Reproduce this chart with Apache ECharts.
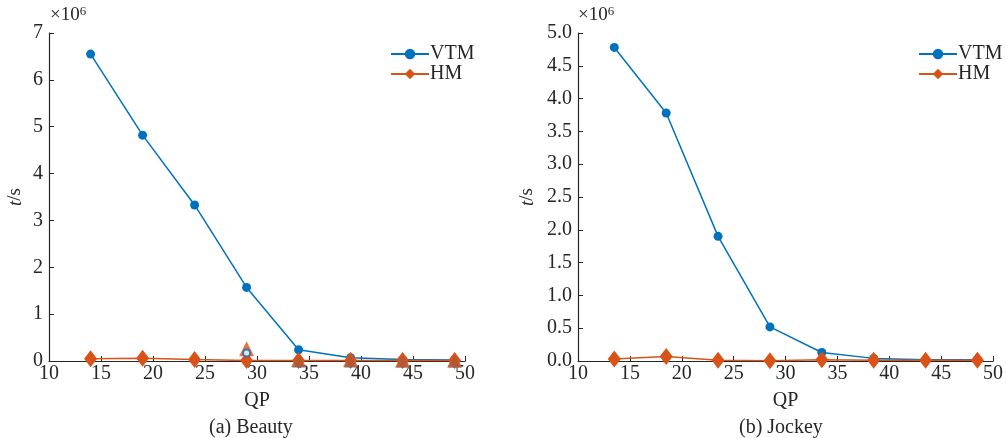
<!DOCTYPE html>
<html>
<head>
<meta charset="utf-8">
<script src="https://cdn.jsdelivr.net/npm/echarts@6/dist/echarts.min.js"></script>
<style>
  html, body { margin: 0; padding: 0; background: #fff; }
  #chart { width: 1006px; height: 438px; }
</style>
</head>
<body>
<div id="chart"></div>
<script>
// values in units of 1e6 s
const qpBeauty = [14, 19, 24, 29, 34, 39, 44, 49];
const vtmBeauty = [6.55, 4.82, 3.33, 1.57, 0.24, 0.07, 0.03, 0.02];
const hmBeauty = [0.05, 0.06, 0.03, 0.01, 0.01, 0.01, 0.01, 0.01];
// stray markers seen in the Beauty panel
const triQpBeauty = [29, 34, 39, 44, 49];
const triOrange = [0.26, 0.03, 0.03, 0.02, 0.02];
const triBlueQp = [34, 39, 44, 49];
const triBlue = [0.0, 0.0, 0.0, 0.0];
const ringQp = [29];
const ringBeauty = [0.17];

const qpJockey = [13.5, 18.5, 23.5, 28.5, 33.5, 38.5, 43.5, 48.5];
const vtmJockey = [4.78, 3.78, 1.90, 0.52, 0.13, 0.04, 0.02, 0.02];
const hmJockey = [0.03, 0.07, 0.01, 0.005, 0.02, 0.01, 0.01, 0.01];

const BLUE = "#0072BD";
const ORANGE = "#D95319";
const INK = "#262626";
const FONT = "Liberation Serif";

function pairs(xs, ys) {
  return xs.map((x, i) => [x, ys[i]]);
}

function xAxis(gi) {
  return {
    type: "value", gridIndex: gi, min: 10, max: 50, interval: 5,
    name: "QP", nameLocation: "middle", nameGap: 30,
    nameTextStyle: { fontFamily: FONT, fontSize: 20, color: INK },
    axisLine: { lineStyle: { color: INK, width: 1.2 } },
    axisTick: { inside: true, length: 5, lineStyle: { color: INK } },
    axisLabel: { fontFamily: FONT, fontSize: 20, color: INK, margin: 3 },
    splitLine: { show: false }
  };
}

function yAxis(gi, max, interval, fmt) {
  return {
    type: "value", gridIndex: gi, min: 0, max: max, interval: interval,
    name: "{i|t}/s", nameLocation: "middle", nameGap: gi === 0 ? 24 : 41, nameRotate: 90,
    nameTextStyle: {
      fontFamily: FONT, fontSize: 19, color: INK,
      rich: { i: { fontFamily: FONT, fontStyle: "italic", fontSize: 19, color: INK } }
    },
    axisLine: { show: true, lineStyle: { color: INK, width: 1.2 } },
    axisTick: { show: true, inside: true, length: 5, lineStyle: { color: INK } },
    axisLabel: { fontFamily: FONT, fontSize: 20, color: INK, margin: 6, formatter: fmt },
    splitLine: { show: false }
  };
}

function lineSeries(name, gi, data, color, symbol, size) {
  return {
    name: name, type: "line", xAxisIndex: gi, yAxisIndex: gi,
    data: data, symbol: symbol, symbolSize: size,
    lineStyle: { color: color, width: 1.5 },
    itemStyle: { color: color },
    z: name === "HM" ? 3 : 2
  };
}

function legend(left) {
  return {
    data: ["VTM", "HM"], orient: "vertical", left: left, top: 39,
    itemWidth: 38, itemHeight: 13, itemGap: 0,
    textStyle: { fontFamily: FONT, fontSize: 20, color: INK, padding: [0, 0, 0, -4] }
  };
}

function powerLabel(left) {
  return {
    type: "text", left: left, top: 5,
    style: {
      text: "×10{s|6}", font: "19px " + FONT, fill: INK,
      rich: { s: { fontSize: 13, fontFamily: FONT, verticalAlign: "top", padding: [0, 0, 8, 0] } }
    }
  };
}

const chart = echarts.init(document.getElementById("chart"), null, { renderer: "canvas" });

const option = {
  animation: false,
  backgroundColor: "#fff",
  grid: [
    { left: 49, top: 33, width: 416, height: 328 },
    { left: 578, top: 33, width: 415, height: 328 }
  ],
  xAxis: [xAxis(0), xAxis(1)],
  yAxis: [
    yAxis(0, 7, 1, (v) => String(v)),
    yAxis(1, 5, 0.5, (v) => v.toFixed(1))
  ],
  legend: [legend(385), legend(913)],
  series: [
    lineSeries("VTM", 0, pairs(qpBeauty, vtmBeauty), BLUE, "circle", 9),
    lineSeries("HM", 0, pairs(qpBeauty, hmBeauty), ORANGE, "diamond", [13, 17]),
    {
      type: "scatter", xAxisIndex: 0, yAxisIndex: 0,
      data: pairs(triBlueQp, triBlue), symbol: "triangle", symbolSize: 13,
      itemStyle: { color: BLUE }, z: 4
    },
    {
      type: "scatter", xAxisIndex: 0, yAxisIndex: 0,
      data: pairs(triQpBeauty, triOrange), symbol: "triangle", symbolSize: 15,
      itemStyle: { color: ORANGE }, z: 5
    },
    {
      type: "scatter", xAxisIndex: 0, yAxisIndex: 0,
      data: pairs(ringQp, ringBeauty), symbol: "emptyCircle", symbolSize: 7,
      itemStyle: { color: BLUE, borderColor: BLUE, borderWidth: 2 }, z: 6
    },
    lineSeries("VTM", 1, pairs(qpJockey, vtmJockey), BLUE, "circle", 9),
    lineSeries("HM", 1, pairs(qpJockey, hmJockey), ORANGE, "diamond", [13, 17])
  ],
  graphic: [
    powerLabel(50),
    powerLabel(578),
    {
      type: "text", left: 209, top: 418,
      style: { text: "(a) Beauty", font: "20px " + FONT, fill: INK }
    },
    {
      type: "text", left: 739, top: 418,
      style: { text: "(b) Jockey", font: "20px " + FONT, fill: INK }
    }
  ]
};

chart.setOption(option);
window.addEventListener("resize", () => {
  chart.resize();
});
</script>
</body>
</html>
